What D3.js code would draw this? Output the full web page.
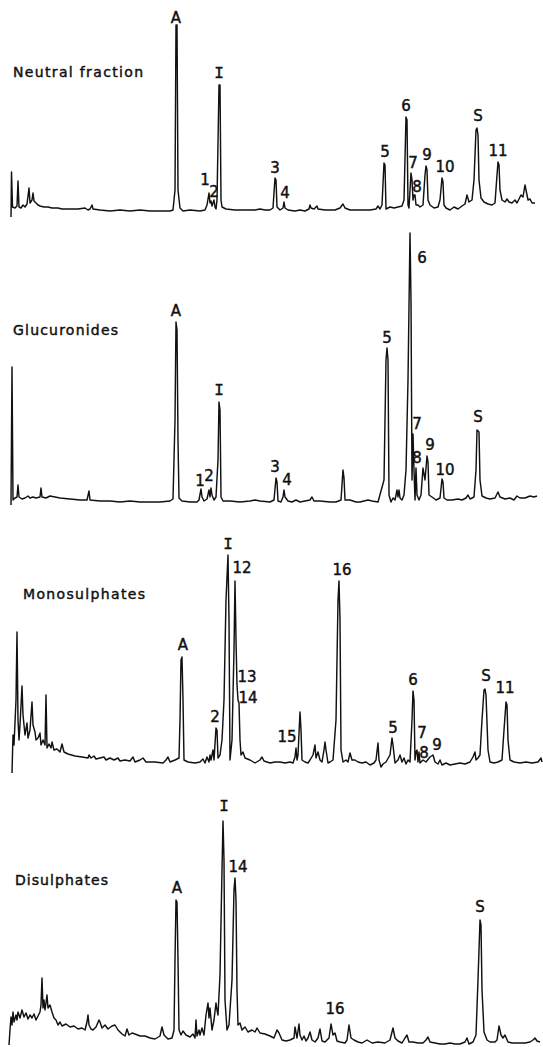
<!DOCTYPE html>
<html>
<head>
<meta charset="utf-8">
<script src="https://cdn.jsdelivr.net/npm/d3@7"></script>
<style>
  body { margin: 0; background: #fff; }
  svg { display: block; }
  .trace { fill: none; stroke: #111; stroke-width: 1.45; stroke-linejoin: round; }
  .title { font-family: "DejaVu Sans", sans-serif; font-size: 14px; fill: #111; stroke: #111; stroke-width: 0.45; }
  .peak { font-family: "DejaVu Sans", sans-serif; font-size: 15px; fill: #111; stroke: #111; stroke-width: 0.45; text-anchor: middle; }
  .peak.serif { font-family: "Liberation Mono", monospace; font-size: 16px; }
</style>
</head>
<body>
<div id="chart"></div>
<script>
var svgWidth = 543;
var svgHeight = 1047;

// retention (arbitrary units) vs detector response
var neutralTrace = [[1,0],[1.5,45],[2.5,10],[5,9],[7,11],[8,36],[9,10],[11,9],[13,12],[15,10],[17,13],[19,29],[20,14],[22,17],[23,24],[24,16],[26,14],[28,12],[30,11],[34,10],[38,10],[42,9],[48,9],[52,8],[60,8],[68,8],[75,9],[78,7],[80,8],[82,12],[83,8],[90,7],[100,6],[110,7],[120,6],[130,7],[140,6],[150,6],[160,6],[163,7],[165,27],[166,192],[167,192],[168,27],[170,9],[173,6],[180,7],[190,6],[195,7],[197,12],[199,24],[200,14],[201,16],[202,11],[203,14],[204,17],[205,10],[206,8],[207,17],[209,132],[210,132],[211,17],[212,10],[216,8],[225,7],[235,7],[245,7],[250,8],[255,7],[260,7],[263,9],[265,39],[266,37],[267,10],[270,7],[273,9],[274,15],[275,9],[278,7],[285,6],[290,7],[295,6],[299,8],[300,12],[301,9],[304,8],[307,11],[308,8],[315,7],[325,7],[330,9],[333,13],[335,9],[340,7],[350,7],[360,7],[366,8],[368,11],[370,8],[372,12],[374,54],[375,52],[376,8],[380,10],[384,9],[388,10],[392,11],[394,17],[396,100],[397,97],[398,12],[399,9],[401,44],[402,37],[403,17],[404,22],[405,22],[406,12],[408,12],[410,10],[413,12],[415,42],[416,51],[417,47],[418,17],[420,12],[424,9],[428,10],[430,17],[432,39],[433,35],[434,12],[436,9],[440,7],[444,10],[448,8],[452,11],[455,13],[457,22],[459,15],[462,17],[464,37],[466,87],[467,89],[468,82],[469,37],[471,19],[474,15],[478,13],[482,12],[485,14],[487,42],[488,55],[489,52],[490,27],[492,17],[495,15],[497,18],[499,15],[502,14],[505,17],[507,14],[509,18],[511,22],[513,20],[515,32],[516,27],[518,17],[520,18],[522,14],[525,14]];

var glucTrace = [[1,0],[2,138],[3,5],[5,7],[7,8],[8,20],[9,8],[12,6],[15,7],[18,9],[20,7],[23,8],[26,7],[30,8],[31,17],[32,8],[36,7],[40,9],[45,8],[50,7],[60,6],[70,5],[77,5],[79,14],[80,5],[90,4],[100,4],[110,3],[120,4],[130,3],[140,3],[150,3],[160,4],[163,6],[165,85],[166,183],[167,175],[168,65],[169,7],[172,4],[180,3],[187,3],[189,5],[191,16],[192,8],[194,4],[197,6],[199,15],[200,8],[201,17],[202,10],[204,5],[206,8],[208,45],[209,103],[210,95],[211,8],[213,4],[220,4],[230,3],[240,4],[245,5],[250,4],[260,3],[264,5],[266,27],[267,23],[268,4],[271,3],[273,8],[274,15],[275,8],[278,4],[282,3],[286,5],[290,3],[295,4],[300,5],[302,8],[304,4],[310,4],[320,3],[326,3],[331,5],[333,35],[334,27],[335,5],[340,5],[346,3],[350,3],[358,5],[362,4],[368,3],[374,25],[376,145],[377,157],[378,145],[379,10],[381,3],[383,7],[385,5],[387,15],[388,8],[389,15],[390,7],[392,5],[394,10],[396,35],[398,125],[400,272],[401,205],[402,25],[403,71],[404,35],[405,5],[406,37],[407,10],[409,5],[411,10],[413,37],[415,25],[417,49],[418,43],[419,10],[422,8],[426,5],[430,7],[432,26],[433,23],[434,7],[437,5],[442,5],[448,6],[452,5],[456,7],[458,10],[460,6],[464,8],[466,35],[467,75],[469,73],[470,25],[472,9],[476,7],[480,6],[485,7],[488,13],[490,8],[495,6],[500,7],[504,5],[507,9],[510,7],[515,7],[520,9],[524,8],[527,9]];

var monoTrace = [[2,0],[3,38],[4,28],[6,73],[7,141],[8,53],[9,33],[10,48],[12,87],[13,58],[15,38],[17,50],[18,35],[20,43],[22,71],[23,48],[25,41],[26,33],[28,35],[30,40],[31,28],[33,33],[35,28],[36,78],[37,25],[39,29],[41,25],[42,31],[44,23],[47,24],[50,21],[52,29],[54,21],[58,19],[65,17],[72,16],[78,15],[79,18],[81,15],[84,17],[86,14],[90,15],[94,16],[96,13],[100,15],[104,13],[108,15],[110,12],[115,13],[120,12],[123,16],[125,11],[130,13],[133,15],[136,11],[145,11],[153,10],[156,13],[158,16],[160,11],[165,13],[169,15],[170,53],[171,113],[172,116],[173,73],[174,13],[178,11],[185,10],[190,11],[193,14],[195,10],[197,16],[199,11],[200,18],[201,13],[203,23],[204,13],[206,45],[207,43],[208,15],[210,18],[212,33],[214,73],[216,173],[218,218],[219,153],[220,13],[222,33],[224,123],[225,192],[226,133],[227,88],[228,73],[229,70],[230,33],[231,18],[233,21],[235,15],[240,13],[245,10],[250,13],[252,16],[254,12],[260,10],[265,11],[270,11],[275,10],[280,11],[283,10],[285,16],[286,25],[287,13],[288,18],[290,61],[291,43],[292,13],[295,11],[298,10],[300,13],[303,18],[305,28],[306,15],[308,21],[310,13],[312,11],[314,23],[315,31],[316,23],[318,10],[320,11],[323,13],[326,53],[328,173],[329,192],[330,153],[331,23],[333,11],[336,13],[338,11],[340,20],[342,13],[345,13],[348,11],[352,10],[356,11],[360,8],[364,10],[366,13],[368,30],[369,13],[371,6],[373,9],[376,11],[380,18],[382,35],[383,28],[385,10],[388,13],[390,18],[392,11],[394,15],[396,9],[398,13],[400,11],[402,53],[403,82],[404,73],[405,13],[406,21],[407,23],[408,11],[409,21],[410,10],[413,13],[416,11],[420,16],[423,18],[425,11],[428,9],[430,13],[432,8],[436,10],[440,8],[445,9],[450,10],[455,9],[460,11],[463,16],[465,21],[466,13],[468,15],[470,18],[472,53],[474,83],[475,84],[476,78],[478,23],[480,11],[484,10],[488,11],[492,13],[494,43],[496,71],[497,68],[498,33],[500,13],[504,11],[510,10],[516,11],[522,10],[528,11],[531,15],[532,11]];

var diTrace = [[-1,0],[0,15],[1,28],[2,20],[3,33],[4,23],[6,30],[7,25],[8,33],[10,27],[12,35],[14,28],[16,32],[18,26],[20,30],[22,27],[24,31],[26,25],[28,29],[30,33],[31,40],[32,67],[33,37],[34,45],[35,35],[36,42],[37,50],[38,37],[40,40],[42,33],[44,27],[46,25],[48,20],[50,23],[52,19],[56,21],[60,18],[64,19],[68,16],[72,17],[75,15],[77,23],[78,30],[79,20],[81,16],[83,15],[86,18],[89,25],[90,23],[92,17],[95,20],[98,16],[102,19],[105,20],[108,15],[112,11],[115,9],[117,16],[119,10],[122,12],[125,11],[130,9],[135,9],[140,7],[145,6],[150,9],[152,18],[154,10],[158,6],[162,7],[164,15],[165,85],[166,145],[167,143],[168,85],[169,15],[171,10],[173,14],[176,10],[180,8],[183,11],[185,7],[186,25],[187,9],[189,15],[190,10],[192,17],[194,10],[196,30],[198,42],[199,27],[200,37],[202,15],[204,25],[206,42],[207,35],[208,30],[210,70],[212,175],[213,224],[214,185],[215,45],[217,15],[219,20],[222,65],[224,155],[225,167],[226,145],[227,55],[228,20],[230,22],[232,15],[235,18],[238,13],[242,15],[245,13],[247,17],[250,12],[255,11],[260,9],[264,7],[267,15],[269,12],[272,5],[276,4],[280,5],[284,7],[285,18],[287,7],[289,21],[290,10],[292,5],[294,9],[296,4],[298,7],[300,13],[302,5],[305,3],[308,7],[310,16],[312,4],[315,3],[319,7],[321,21],[323,10],[325,12],[327,4],[330,3],[335,2],[337,5],[339,20],[341,7],[344,5],[348,3],[352,2],[357,5],[362,2],[368,3],[375,2],[380,5],[383,17],[385,7],[388,4],[392,2],[395,7],[397,10],[399,3],[403,3],[408,2],[413,2],[416,5],[418,8],[420,3],[425,2],[430,1],[435,1],[440,2],[445,1],[450,1],[455,3],[457,7],[459,1],[463,3],[466,10],[468,65],[470,125],[471,120],[472,55],[474,13],[477,5],[480,3],[485,3],[487,5],[489,19],[491,10],[493,7],[495,10],[498,3],[502,2],[508,2],[515,2],[520,3],[523,5],[525,7],[527,4],[530,3]];

// peak labels: [text, retention, response]
var neutralLabels = [["A",166,199],["I",209,145],["1",195,37],["2",204,25],["3",265,49],["4",275,24],["5",375,65],["6",396,111],["7",403,54],["8",407,30],["9",417,62],["10",435,50],["S",468,101],["11",488,66]];
var glucLabels = [["A",166,194],["1",190,24],["2",199,29],["I",209,116],["3",265,38],["4",277,25],["5",377,167],["6",412,247],["7",407,81],["8",407,47],["9",420,60],["10",435,35],["S",468,88]];
var monoLabels = [["A",173,128],["2",205,56],["I",218,230],["12",232,205],["13",237,96],["14",238,75],["15",277,36],["16",332,203],["5",383,45],["6",403,93],["7",412,40],["8",414,20],["9",427,28],["S",476,97],["11",495,85]];
var diLabels = [["A",167,157],["I",214,240],["14",228,178],["16",325,36],["S",470,138]];

var panelNames = ["Neutral fraction", "Glucuronides", "Monosulphates", "Disulphates"];

var panels = [
  { name: panelNames[0], trace: neutralTrace, labels: neutralLabels, bottom: 217, tx: 13, ty: 72, tw: 130 },
  { name: panelNames[1], trace: glucTrace, labels: glucLabels, bottom: 505, tx: 13, ty: 330, tw: 105 },
  { name: panelNames[2], trace: monoTrace, labels: monoLabels, bottom: 773, tx: 23, ty: 594, tw: 122 },
  { name: panelNames[3], trace: diTrace, labels: diLabels, bottom: 1045, tx: 15, ty: 880, tw: 93 }
];

var svg = d3.select("#chart")
  .append("svg")
  .attr("width", svgWidth)
  .attr("height", svgHeight);

var xScale = d3.scaleLinear()
  .domain([0, 530])
  .range([10, 540]);

panels.forEach(function(p) {
  var yScale = d3.scaleLinear()
    .domain([0, 280])
    .range([p.bottom, p.bottom - 280]);

  var line = d3.line()
    .x(d => xScale(d[0]))
    .y(d => yScale(d[1]));

  var g = svg.append("g");

  g.append("path")
    .datum(p.trace)
    .attr("class", "trace")
    .attr("d", line);

  g.selectAll(".peak")
    .data(p.labels)
    .enter()
    .append("text")
    .attr("class", d => d[0] === "I" ? "peak serif" : "peak")
    .attr("x", d => xScale(d[1]))
    .attr("y", d => yScale(d[2]))
    .attr("dy", "0.36em")
    .text(d => d[0]);

  // panel name
  g.append("text")
    .attr("class", "title")
    .attr("x", p.tx)
    .attr("y", p.ty)
    .attr("dy", "0.36em")
    .attr("textLength", p.tw)
    .attr("lengthAdjust", "spacing")
    .text(p.name);
});
</script>
</body>
</html>
